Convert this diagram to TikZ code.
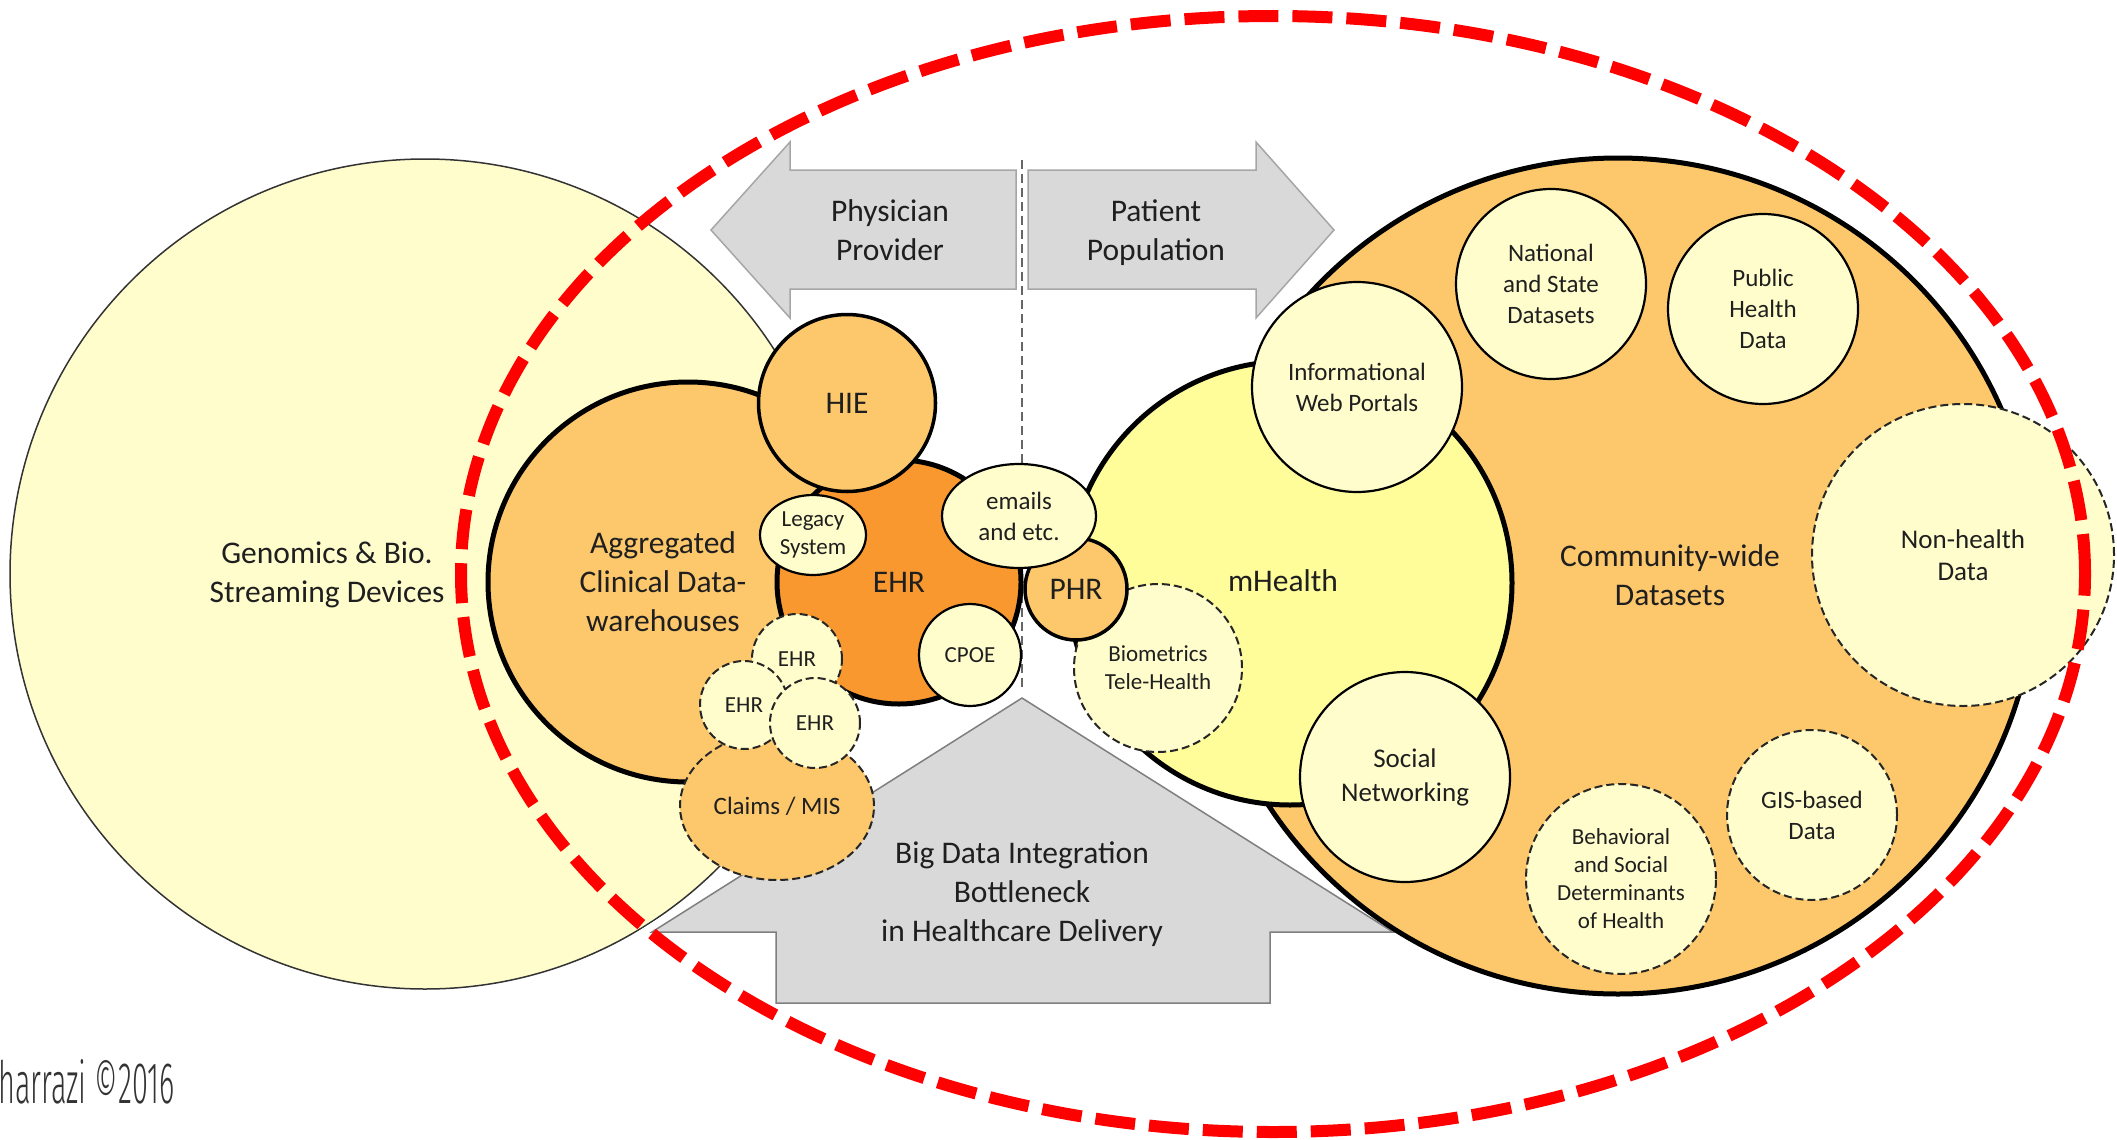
\documentclass[tikz,border=0pt]{standalone}
\usepackage{fontspec}
\setmainfont{Carlito}
\IfFontExistsTF{Fira Sans Light}{\newfontfamily\creditfont{Fira Sans Light}}{\newfontfamily\creditfont{Carlito}}
\usetikzlibrary{shapes.geometric}
\definecolor{cream}{HTML}{FFFDCC}
\definecolor{lorange}{HTML}{FDC86C}
\definecolor{dorange}{HTML}{F8982F}
\definecolor{myellow}{HTML}{FFFC9A}
\definecolor{arrowgray}{HTML}{D9D9D9}
\definecolor{arrowedge}{HTML}{A6A6A6}
\definecolor{arrowedgeb}{HTML}{7F7F7F}
\definecolor{ink}{HTML}{1F1F1F}
\tikzset{
  bub/.style={circle, inner sep=0pt, outer sep=0pt, align=center, text=ink},
  ell/.style={ellipse, inner sep=0pt, outer sep=0pt, align=center, text=ink},
  lbl/.style={align=center, text=ink, inner sep=0pt},
  fbig/.style={font=\fontsize{31.5}{39}\selectfont},
  fmid/.style={font=\fontsize{25}{31}\selectfont},
  fsml/.style={font=\fontsize{23}{28}\selectfont},
  thickb/.style={draw=black, line width=5pt},
  medb/.style={draw=black, line width=3.5pt},
  thinb/.style={draw=black, line width=2.2pt},
  dashb/.style={draw=black!85, line width=2pt, dash pattern=on 8pt off 4pt},
  arrowshape/.style={fill=arrowgray, draw=arrowedge, line width=1.5pt, line join=miter},
  midline/.style={draw=black!60, line width=1.5pt, dash pattern=on 9pt off 5pt},
  redring/.style={ellipse, draw=red, line width=12pt, dash pattern=on 40pt off 14pt, inner sep=0pt},
}
\begin{document}
\begin{tikzpicture}[x=1pt,y=-1pt]
\useasboundingbox (0,0) rectangle (2117,1140);

% Genomics circle
\node[bub, fill=cream, draw=black!80, line width=1.5pt, minimum size=830pt] (genomics) at (425,574) {};
\node[lbl, fbig] (genomicsText) at (327,575) {Genomics \& Bio.\\Streaming Devices};

% top arrows
\path[arrowshape] (711,230) -- (790,142) -- (790,170) -- (1016,170) -- (1016,289) -- (790,289) -- (790,318) -- cycle;
\node[lbl, fbig] (physician) at (890,230) {Physician\\Provider};
\path[arrowshape] (1028,170) -- (1256,170) -- (1256,142) -- (1334,230) -- (1256,318) -- (1256,289) -- (1028,289) -- cycle;
\node[lbl, fbig] (patient) at (1156,233) {Patient\\Population};

% vertical dashed divider
\coordinate (vtop) at (1022,160);
\coordinate (apex) at (1022,698);
\draw[midline] (vtop) -- (apex);

% bottom arrow
\draw[white, line width=16pt, line join=miter, fill=white] (apex) -- (652,932) -- (776,932) -- (776,1003) -- (1270,1003) -- (1270,932) -- (1393,932) -- cycle;
\path[fill=arrowgray, draw=arrowedgeb, line width=1.5pt, line join=miter] (apex) -- (652,932) -- (776,932) -- (776,1003) -- (1270,1003) -- (1270,932) -- (1393,932) -- cycle;
\node[lbl, fbig] (bigdata) at (1022,894) {Big Data Integration\\Bottleneck\\in Healthcare Delivery};

% provider cluster
\node[bub, fill=lorange, thickb, minimum size=400pt] (aggr) at (688,582) {};
\node[lbl, fbig] (aggrText) at (663,582) {Aggregated\\Clinical Data-\\warehouses};
\node[bub, fill=dorange, thickb, minimum size=244pt, fbig] (ehr) at (899,582) {EHR};
\node[bub, fill=lorange, medb, minimum size=177pt, fbig] (hie) at (847,403) {HIE};
\node[ell, fill=cream, thinb, minimum width=106pt, minimum height=80pt, fsml] (legacy) at (813,535) {Legacy\\System};
\node[bub, fill=cream, thinb, minimum size=102pt, fsml] (cpoe) at (970,655) {CPOE};
\node[ell, fill=lorange, dashb, minimum width=194pt, minimum height=148pt, fmid] (claims) at (777,806) {Claims / MIS};
\node[bub, fill=cream, dashb, minimum size=90pt, fsml] (ehrA) at (797,659) {EHR};
\node[bub, fill=cream, dashb, minimum size=88pt, fsml] (ehrB) at (744,705) {EHR};
\node[bub, fill=cream, dashb, minimum size=90pt, fsml] (ehrC) at (815,723) {EHR};

% community cluster
\node[bub, fill=lorange, thickb, minimum size=836pt] (community) at (1618,576) {};
\node[lbl, fbig] (communityText) at (1670,575) {Community-wide\\Datasets};
\node[bub, fill=myellow, thickb, minimum size=444pt] (mhealth) at (1290,583) {};
\node[lbl, fbig] (mhealthText) at (1283,581) {mHealth};
\node[bub, fill=cream, dashb, minimum size=168pt, fsml] (biometrics) at (1158,668) {Biometrics\\Tele-Health};
\node[bub, fill=lorange, medb, minimum size=102pt, fbig] (phr) at (1076,589) {PHR};
\node[ell, fill=cream, thinb, minimum width=154pt, minimum height=104pt, fmid] (emails) at (1019,516) {emails\\and etc.};
\node[bub, fill=cream, thinb, minimum size=210pt, fmid] (portals) at (1357,387) {Informational\\Web Portals};
\node[bub, fill=cream, thinb, minimum size=190pt, fmid] (national) at (1551,284) {National\\and State\\Datasets};
\node[bub, fill=cream, thinb, minimum size=190pt, fmid] (public) at (1763,309) {Public\\Health\\Data};
\node[bub, fill=cream, dashb, minimum size=302pt, font=\fontsize{27}{32}\selectfont] (nonhealth) at (1963,555) {Non-health\\Data};
\node[bub, fill=cream, thinb, minimum size=210pt, font=\fontsize{27}{34}\selectfont] (social) at (1405,777) {Social\\Networking};
\node[bub, fill=cream, dashb, minimum size=190pt, fsml] (behavioral) at (1621,879) {Behavioral\\and Social\\Determinants\\of Health};
\node[bub, fill=cream, dashb, minimum size=170pt, fmid] (gis) at (1812,815) {GIS-based\\Data};

% red scope ring
\node[redring, minimum width=1624pt, minimum height=1116pt] (scopeRing) at (1273,574) {};

% credit
\node[anchor=base west, inner sep=0pt, text=black!80] (credit) at (-2,1103) {\resizebox{176pt}{44pt}{\creditfont harrazi ©2016}};
\end{tikzpicture}
\end{document}
